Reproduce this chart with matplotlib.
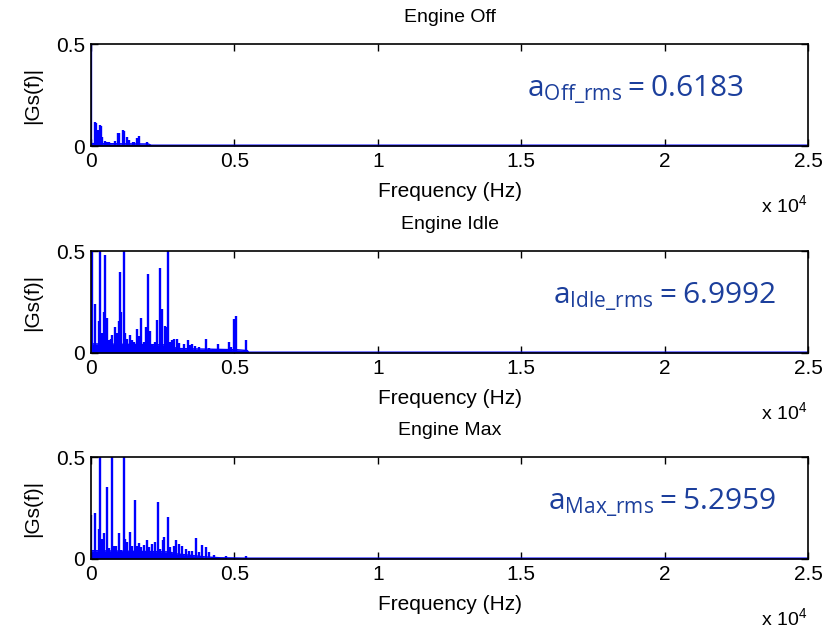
import numpy as np
import matplotlib.pyplot as plt
from matplotlib.ticker import FuncFormatter

# Peaks of |Gs(f)|: frequency (Hz) and height
off_f = [0, 140, 190, 256, 314, 340, 384, 488, 550, 628, 837, 953, 990,
         1127, 1162, 1243, 1325, 1453, 1510, 1592, 1685, 1941]
off_a = [0.62, 0.12, 0.115, 0.08, 0.105, 0.1, 0.045, 0.025, 0.022, 0.022,
         0.025, 0.063, 0.066, 0.08, 0.072, 0.046, 0.03, 0.022, 0.022, 0.04,
         0.047, 0.022]

idle_f = [0, 40, 151, 279, 325, 384, 442, 500, 547, 620, 686, 744, 826, 895,
          965, 1011, 1058, 1140, 1197, 1260, 1349, 1420, 1500, 1604, 1680,
          1755, 1850, 1929, 1988, 2050, 2130, 2220, 2313, 2406, 2476, 2569,
          2620, 2685, 2750, 2830, 2900, 2988, 3080, 3240, 3372, 3450, 3530,
          3620, 3760, 3999, 4120, 4260, 4418, 4560, 4680, 4812, 4900, 4986,
          5045, 5394]
idle_a = [0.62, 0.6, 0.24, 0.155, 0.6, 0.1, 0.2, 0.48, 0.17, 0.062, 0.07,
          0.09, 0.127, 0.1, 0.155, 0.396, 0.2, 0.6, 0.1, 0.07, 0.09, 0.062,
          0.054, 0.12, 0.086, 0.17, 0.054, 0.127, 0.388, 0.11, 0.046, 0.054,
          0.16, 0.42, 0.216, 0.135, 0.13, 0.6, 0.054, 0.062, 0.07, 0.07,
          0.048, 0.045, 0.065, 0.04, 0.043, 0.036, 0.03, 0.07, 0.025, 0.022,
          0.046, 0.022, 0.022, 0.054, 0.03, 0.168, 0.184, 0.062]

max_f = [0, 151, 279, 325, 384, 442, 547, 620, 732, 800, 880, 965, 1040,
         1140, 1197, 1270, 1349, 1440, 1523, 1600, 1680, 1760, 1850, 1941,
         2030, 2130, 2230, 2336, 2420, 2500, 2560, 2685, 2760, 2880, 2976,
         3060, 3184, 3300, 3420, 3540, 3661, 3760, 3882, 3999, 4120, 4280,
         4700, 5394]
max_a = [0.215, 0.224, 0.149, 0.6, 0.1, 0.127, 0.356, 0.053, 0.6, 0.066,
         0.066, 0.127, 0.042, 0.6, 0.1, 0.083, 0.132, 0.066, 0.29, 0.066,
         0.078, 0.058, 0.07, 0.091, 0.058, 0.075, 0.083, 0.28, 0.05, 0.091,
         0.108, 0.207, 0.058, 0.066, 0.094, 0.075, 0.066, 0.05, 0.04, 0.04,
         0.103, 0.036, 0.07, 0.058, 0.036, 0.02, 0.014, 0.017]

# noise floor envelope (Hz, height)
off_floor_f = [0, 2000, 2100, 25000]
off_floor_a = [0.012, 0.01, 0.004, 0.004]
idle_floor_f = [0, 2700, 3000, 5100, 5450, 5500, 25000]
idle_floor_a = [0.045, 0.04, 0.022, 0.016, 0.012, 0.004, 0.004]
max_floor_f = [0, 2700, 3000, 4000, 4500, 5500, 25000]
max_floor_a = [0.041, 0.035, 0.025, 0.01, 0.006, 0.004, 0.004]

titles = ['Engine Off', 'Engine Idle', 'Engine Max']
rms_names = ['Off', 'Idle', 'Max']
rms_values = [0.6183, 6.9992, 5.2959]

peaks = [(off_f, off_a), (idle_f, idle_a), (max_f, max_a)]
floors = [(off_floor_f, off_floor_a), (idle_floor_f, idle_floor_a),
          (max_floor_f, max_floor_a)]

plt.rcParams['font.family'] = ['Liberation Sans', 'DejaVu Sans']
plt.rcParams['font.size'] = 15

fig = plt.figure(figsize=(8.34, 6.28), dpi=100)
bottoms = [0.7675, 0.4379, 0.1099]
txt_x = [0.608, 0.644, 0.637]

for i in range(3):
    ax = fig.add_axes([0.109, bottoms[i], 0.860, 0.162])
    ff, fa = floors[i]
    pf, pa = peaks[i]
    ax.fill_between(ff, 0, fa, color='b', lw=0)
    ax.plot(ff, fa, color='b', lw=1.0)
    ax.vlines(pf, 0, pa, color='b', lw=1.7)

    ax.set_xlim(0, 25000)
    ax.set_ylim(0, 0.5)
    ax.set_xticks(np.arange(0, 25001, 5000))
    ax.set_yticks([0, 0.5])
    ax.xaxis.set_major_formatter(FuncFormatter(lambda v, p: '{:g}'.format(v / 1e4)))
    ax.yaxis.set_major_formatter(FuncFormatter(lambda v, p: '{:g}'.format(v)))
    ax.tick_params(direction='in', top=True, right=True, length=5,
                   width=1.0, pad=4)
    for s in ax.spines.values():
        s.set_linewidth(1.2)

    ax.set_title(titles[i], fontsize=14, pad=16)
    ax.set_xlabel('Frequency (Hz)', labelpad=8)
    ax.set_ylabel('|Gs(f)|', labelpad=10)
    ax.text(0.999, -0.65, r'x $\mathregular{10^4}$', transform=ax.transAxes,
            ha='right', va='baseline', fontsize=14)

    label = r'$\mathregular{a_{%s\_rms}=%.4f}$' % (rms_names[i], rms_values[i])
    ax.text(txt_x[i], 0.49, label, transform=ax.transAxes, ha='left',
            va='baseline', fontsize=21.5, color='#1c3f9c', family='Open Sans')

fig.savefig('out.png', dpi=100)
